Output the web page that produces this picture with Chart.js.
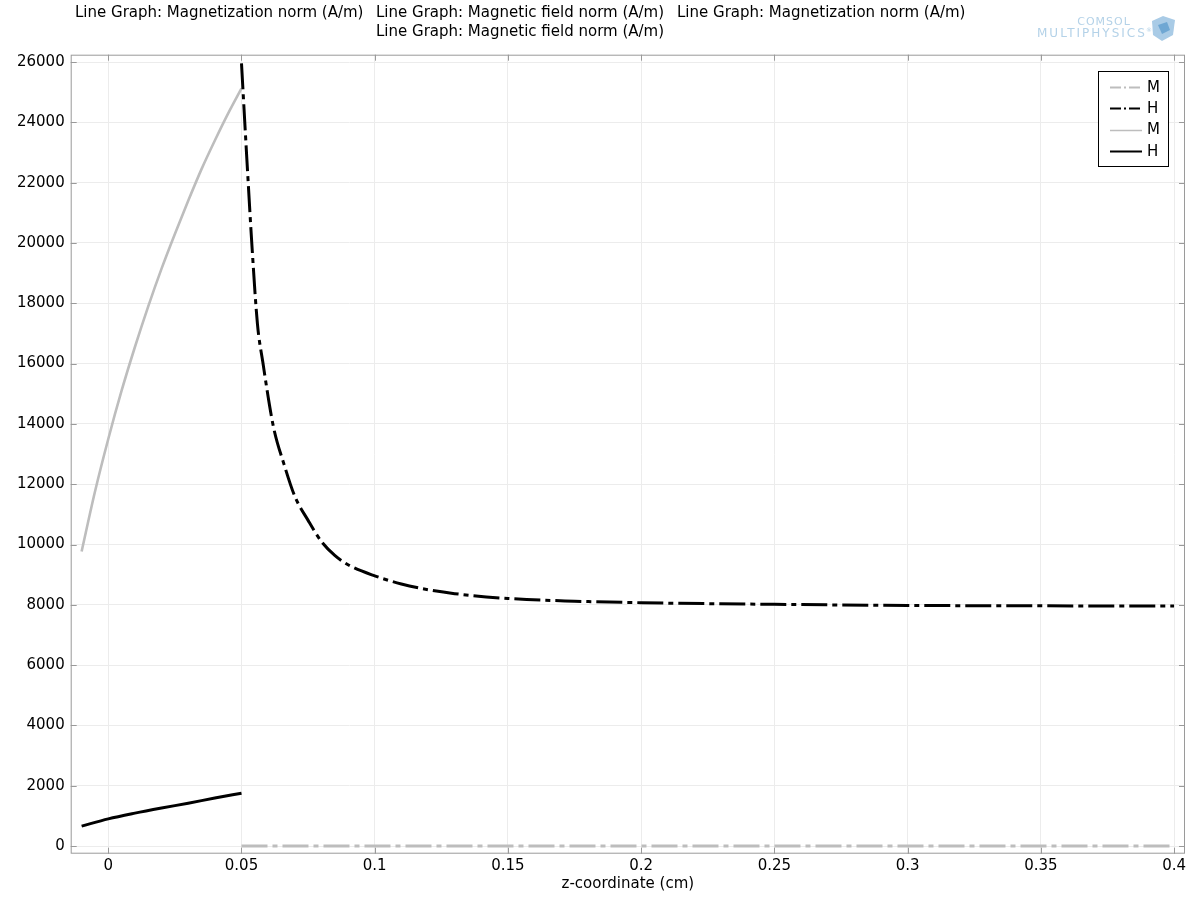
<!DOCTYPE html>
<html>
<head>
<meta charset="utf-8">
<script src="https://cdn.jsdelivr.net/npm/chart.js@4.4.1/dist/chart.umd.min.js"></script>
<style>
  html, body { margin: 0; padding: 0; background: #fff; }
  #wrap { width: 1200px; height: 900px; position: relative; }
</style>
</head>
<body>
<div id="wrap"><canvas id="c" width="1200" height="900"></canvas></div>
<script>
// ---- Data ----
// M, dash-dot (gray): magnetization outside magnet (zero)
const mDashX = [0.05, 0.1, 0.15, 0.2, 0.25, 0.3, 0.35, 0.4];
const mDashY = [0, 0, 0, 0, 0, 0, 0, 0];

// H, dash-dot (black): field outside magnet
const hDashX = [0.05, 0.052, 0.054, 0.056, 0.058, 0.062, 0.066, 0.07, 0.075, 0.08, 0.085, 0.09, 0.1, 0.11, 0.12, 0.13, 0.15, 0.175, 0.2, 0.25, 0.3, 0.35, 0.4];
const hDashY = [25960, 22800, 19800, 17300, 16050, 13900, 12650, 11600, 10800, 10100, 9640, 9330, 8960, 8690, 8500, 8370, 8210, 8120, 8070, 8015, 7980, 7965, 7960];

// M, solid (gray): magnetization inside magnet
const mSolidX = [-0.01, -0.005, 0, 0.005, 0.01, 0.015, 0.02, 0.025, 0.03, 0.035, 0.04, 0.045, 0.05];
const mSolidY = [9770, 11750, 13500, 15100, 16550, 17900, 19150, 20300, 21400, 22450, 23400, 24300, 25130];

// H, solid (black): field inside magnet
const hSolidX = [-0.01, 0, 0.01, 0.02, 0.03, 0.04, 0.05];
const hSolidY = [660, 900, 1090, 1260, 1420, 1590, 1750];

// Tick labels
const xTicks = [0, 0.05, 0.1, 0.15, 0.2, 0.25, 0.3, 0.35, 0.4];
const yTicks = [0, 2000, 4000, 6000, 8000, 10000, 12000, 14000, 16000, 18000, 20000, 22000, 24000, 26000];

const legendLabels = ['M', 'H', 'M', 'H'];
const titleItems = [
  'Line Graph: Magnetization norm (A/m)',
  'Line Graph: Magnetic field norm (A/m)',
  'Line Graph: Magnetization norm (A/m)',
  'Line Graph: Magnetic field norm (A/m)'
];

const FONT = "'DejaVu Sans', sans-serif";
const GRAY = '#bdbdbd';
const DASHDOT = [26, 5, 5, 5];

function pts(xs, ys) { return xs.map((x, i) => ({ x: x, y: ys[i] })); }

const datasets = [
  { label: legendLabels[0], data: pts(mDashX, mDashY), borderColor: GRAY, borderWidth: 3, borderDash: DASHDOT },
  { label: legendLabels[1], data: pts(hDashX, hDashY), borderColor: '#000', borderWidth: 3, borderDash: DASHDOT, cubicInterpolationMode: 'monotone' },
  { label: legendLabels[2], data: pts(mSolidX, mSolidY), borderColor: GRAY, borderWidth: 2.6, cubicInterpolationMode: 'monotone' },
  { label: legendLabels[3], data: pts(hSolidX, hSolidY), borderColor: '#000', borderWidth: 3, cubicInterpolationMode: 'monotone' }
].map(d => Object.assign({ pointRadius: 0, fill: false, borderCapStyle: 'butt' }, d));

const decor = {
  id: 'decor',
  afterDraw(chart) {
    const ctx = chart.ctx;
    const a = chart.chartArea;
    const xs = chart.scales.x, ys = chart.scales.y;
    ctx.save();
    // frame
    ctx.strokeStyle = '#9a9a9a';
    ctx.lineWidth = 1;
    ctx.strokeRect(a.left + 0.5, a.top + 0.5, a.right - a.left - 1, a.bottom - a.top - 1);
    // inward ticks
    const TL = 6;
    ctx.beginPath();
    xTicks.forEach(v => {
      const p = Math.round(xs.getPixelForValue(v)) + 0.5;
      ctx.moveTo(p, a.bottom); ctx.lineTo(p, a.bottom - TL);
      ctx.moveTo(p, a.top); ctx.lineTo(p, a.top + TL);
    });
    yTicks.forEach(v => {
      const p = Math.round(ys.getPixelForValue(v)) + 0.5;
      ctx.moveTo(a.left, p); ctx.lineTo(a.left + TL, p);
      ctx.moveTo(a.right, p); ctx.lineTo(a.right - TL, p);
    });
    ctx.stroke();

    // title
    ctx.fillStyle = '#000';
    ctx.font = '15px ' + FONT;
    ctx.textBaseline = 'middle';
    ctx.textAlign = 'left';
    ctx.fillText(titleItems[0], 75, 13);
    ctx.fillText(titleItems[1], 376, 13);
    ctx.fillText(titleItems[2], 677, 13);
    ctx.fillText(titleItems[3], 376, 32);

    // COMSOL logo (text)
    ctx.fillStyle = '#b4d2e8';
    ctx.font = '11px ' + FONT;
    ctx.textAlign = 'center';
    try { ctx.letterSpacing = '1px'; } catch (e) {}
    ctx.fillText('COMSOL', 1104, 22);
    ctx.font = '12px ' + FONT;
    ctx.textAlign = 'left';
    try { ctx.letterSpacing = '2px'; } catch (e) {}
    ctx.fillText('MULTIPHYSICS', 1037, 34);
    try { ctx.letterSpacing = '0px'; } catch (e) {}
    ctx.font = '6px ' + FONT;
    ctx.fillText('®', 1146, 30);
    // cube icon
    ctx.fillStyle = '#a9cbe6';
    ctx.beginPath();
    ctx.moveTo(1152, 21); ctx.lineTo(1163, 16); ctx.lineTo(1175, 20);
    ctx.lineTo(1173, 35); ctx.lineTo(1162, 41); ctx.lineTo(1153, 35);
    ctx.closePath(); ctx.fill();
    ctx.fillStyle = '#6fa7d3';
    ctx.beginPath();
    ctx.moveTo(1158, 25); ctx.lineTo(1167, 22); ctx.lineTo(1170, 30);
    ctx.lineTo(1162, 34); ctx.closePath(); ctx.fill();

    // legend
    const bx = 1098.5, by = 71.5, bw = 70, bh = 95;
    ctx.fillStyle = '#fff';
    ctx.fillRect(bx, by, bw, bh);
    ctx.strokeStyle = '#000';
    ctx.lineWidth = 1;
    ctx.strokeRect(bx, by, bw, bh);
    ctx.font = '15px ' + FONT;
    ctx.textAlign = 'left';
    chart.data.datasets.forEach((d, i) => {
      const yy = 87 + i * 21.3;
      ctx.save();
      ctx.strokeStyle = d.borderColor;
      ctx.lineWidth = i === 2 ? 1.5 : 2;
      ctx.setLineDash(d.borderDash ? [11, 3, 2, 3] : []);
      ctx.beginPath();
      ctx.moveTo(1110, Math.round(yy) + 0.5); ctx.lineTo(1142, Math.round(yy) + 0.5);
      ctx.stroke();
      ctx.restore();
      ctx.fillStyle = '#000';
      ctx.fillText(d.label, 1147, yy + 1);
    });
    ctx.restore();
  }
};

new Chart(document.getElementById('c'), {
  type: 'line',
  data: { datasets: datasets },
  options: {
    responsive: false,
    animation: false,
    devicePixelRatio: 1,
    layout: { padding: { top: 54.7, right: 15, left: 0, bottom: 0 } },
    plugins: { legend: { display: false }, tooltip: { enabled: false }, title: { display: false } },
    scales: {
      x: {
        type: 'linear',
        min: -0.0141, max: 0.4041,
        afterBuildTicks: s => { s.ticks = xTicks.map(v => ({ value: v })); },
        afterFit: s => { s.height = 46.3; },
        ticks: {
          color: '#000', font: { family: FONT, size: 15 }, padding: 3, maxRotation: 0,
          callback: v => String(+v.toFixed(3))
        },
        grid: { color: '#ececec', lineWidth: 1, drawTicks: false },
        border: { display: false },
        title: { display: true, text: 'z-coordinate (cm)', color: '#000', font: { family: FONT, size: 15 }, padding: { top: 0, bottom: 7 } }
      },
      y: {
        type: 'linear',
        min: -255, max: 26245,
        afterBuildTicks: s => { s.ticks = yTicks.map(v => ({ value: v })); },
        afterFit: s => { s.width = 70.7; },
        ticks: { color: '#000', font: { family: FONT, size: 15 }, padding: 6, callback: v => String(v) },
        grid: { color: '#ececec', lineWidth: 1, drawTicks: false },
        border: { display: false }
      }
    }
  },
  plugins: [decor]
});
</script>
</body>
</html>
